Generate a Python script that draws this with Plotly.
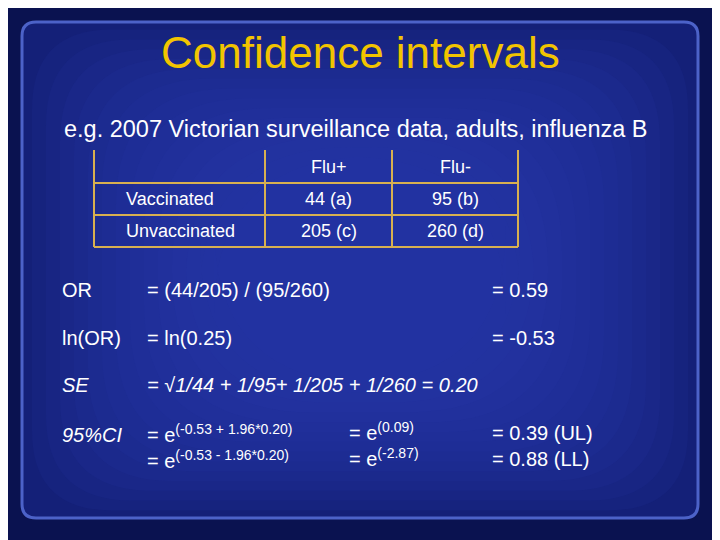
import plotly.graph_objects as go

# table contents
col_heads = ["", "Flu+", "Flu-"]
row_heads = ["Vaccinated", "Unvaccinated"]
flu_pos = ["44 (a)", "205 (c)"]
flu_neg = ["95 (b)", "260 (d)"]

# calculation lines: (label, formula, middle, result)
calc_labels = ["OR", "ln(OR)", "SE", "95%CI"]
calc_formulas = ["= (44/205) / (95/260)", "= ln(0.25)",
                 "= √1/44 + 1/95+ 1/205 + 1/260 = 0.20",
                 "= e<sup>(-0.53 + 1.96*0.20)</sup><br>= e<sup>(-0.53 - 1.96*0.20)</sup>"]
calc_middle = ["", "", "", "= e<sup>(0.09)</sup><br>= e<sup>(-2.87)</sup>"]
calc_results = ["= 0.59", "= -0.53", "", "= 0.39 (UL)<br>= 0.88 (LL)"]
calc_y = [290, 338, 385, 435]

W, H = 720, 540
OFF = 8  # page body margin
fig = go.Figure()


def rrect(x0, y0, x1, y1, r):
    return (f"M {x0+r},{y0} L {x1-r},{y0} Q {x1},{y0} {x1},{y0+r} L {x1},{y1-r} "
            f"Q {x1},{y1} {x1-r},{y1} L {x0+r},{y1} Q {x0},{y1} {x0},{y1-r} "
            f"L {x0},{y0+r} Q {x0},{y0} {x0+r},{y0} Z")


shapes = [dict(type="path", path=rrect(22, 22, 698, 518, 14), fillcolor="#142078",
               line=dict(color="#4c62c8", width=3), layer="below")]
# soft radial-ish gradient
for i in range(14):
    d = 8 + i * 14
    shapes.append(dict(type="path", path=rrect(24 + d, 24 + d * 0.7, 696 - d, 516 - d * 0.7, 80 + i * 6),
                       fillcolor="#2a3cb0", line=dict(width=0), layer="below", opacity=0.12))

# table grid
gold = dict(color="#d8b050", width=2)
xs = [94, 265, 392, 518]
ys = [150, 183, 215, 247]
for x in xs:
    shapes.append(dict(type="line", x0=x, x1=x, y0=ys[0], y1=ys[-1], line=gold))
for y in ys[1:]:
    shapes.append(dict(type="line", x0=xs[0], x1=xs[-1], y0=y, y1=y, line=gold))

ann = []
font = dict(family="Liberation Sans, Arial", color="white", size=18)
for j, h in enumerate(col_heads):
    ann.append(dict(x=(xs[j] + xs[j + 1]) / 2, y=(ys[0] + ys[1]) / 2, text=h, showarrow=False, font=font))
for i in range(2):
    yc = (ys[i + 1] + ys[i + 2]) / 2
    ann.append(dict(x=124, y=yc, text=row_heads[i], xanchor="left", showarrow=False, font=font))
    ann.append(dict(x=(xs[1] + xs[2]) / 2, y=yc, text=flu_pos[i], showarrow=False, font=font))
    ann.append(dict(x=(xs[2] + xs[3]) / 2, y=yc, text=flu_neg[i], showarrow=False, font=font))

ann.append(dict(x=360, y=52, text="Confidence intervals", showarrow=False,
                font=dict(family="Liberation Sans, Arial", color="#f2c400", size=44)))
ann.append(dict(x=62, y=129, text="e.g. 2007 Victorian surveillance data, adults, influenza B",
                xanchor="left", showarrow=False,
                font=dict(family="Liberation Sans, Arial", color="white", size=23.5)))

body = dict(family="Liberation Sans, Arial", color="white", size=20)
for k in range(4):
    ital = k >= 2
    ann.append(dict(x=60, y=calc_y[k], text=f"<i>{calc_labels[k]}</i>" if ital else calc_labels[k],
                    xanchor="left", showarrow=False, font=body))
    if k < 3:
        ann.append(dict(x=145, y=calc_y[k], text=f"<i>{calc_formulas[k]}</i>" if ital else calc_formulas[k],
                        xanchor="left", showarrow=False, font=body))
        if calc_results[k]:
            ann.append(dict(x=490, y=calc_y[k], text=calc_results[k], xanchor="left",
                            showarrow=False, font=body))
    else:
        ann.append(dict(x=145, y=446, text=calc_formulas[k], xanchor="left", align="left",
                        showarrow=False, font=body))
        ann.append(dict(x=347, y=444, text=calc_middle[k], xanchor="left", align="left",
                        showarrow=False, font=body))
        ann.append(dict(x=490, y=446, text=calc_results[k], xanchor="left", align="left",
                        showarrow=False, font=body))

fig.update_layout(width=W, height=H, margin=dict(l=0, r=0, t=0, b=0),
                  paper_bgcolor="#0a1250", plot_bgcolor="rgba(0,0,0,0)",
                  shapes=shapes, annotations=ann, showlegend=False,
                  xaxis=dict(range=[OFF, W + OFF], visible=False, fixedrange=True),
                  yaxis=dict(range=[H + OFF, OFF], visible=False, fixedrange=True))
fig.write_html("out.html", config={"displayModeBar": False})
